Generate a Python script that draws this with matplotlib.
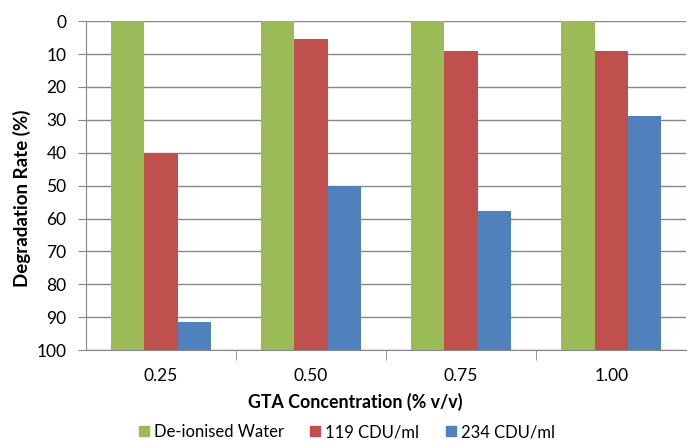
import numpy as np
import matplotlib.pyplot as plt
from matplotlib.patches import Patch

concentrations = ["0.25", "0.50", "0.75", "1.00"]
series_names = ["De-ionised Water", "119 CDU/ml", "234 CDU/ml"]
water = [0, 0, 0, 0]
cdu_119 = [40, 5.5, 9.1, 9.1]
cdu_234 = [91.5, 50, 57.8, 28.7]
colors = ["#9BBB59", "#C0504D", "#4F81BD"]

plt.rcParams['font.family'] = ['Lato', 'DejaVu Sans']
grid_col = "#878787"

fig = plt.figure(figsize=(6.87, 4.42), dpi=100)
ax = fig.add_axes([0.125, 0.208, 0.874, 0.744])

x = np.arange(len(concentrations))
w = 0.222
for i, vals in enumerate([water, cdu_119, cdu_234]):
    vals = np.array(vals)
    # bars rise from the 100 baseline at the bottom of the reversed axis
    ax.bar(x + (i - 1) * w, vals - 100, bottom=100, width=w,
           color=colors[i], zorder=3)

ax.set_ylim(100, 0)
ax.set_xlim(-0.5, len(concentrations) - 0.5)
ax.set_yticks(np.arange(0, 101, 10))
ax.tick_params(axis='y', labelsize=12.5, length=6, color=grid_col, pad=8)
ax.yaxis.grid(True, color=grid_col, linewidth=1, zorder=0)

ax.set_xticks(x)
ax.set_xticklabels(concentrations, fontsize=12.5)
ax.set_xticks(np.arange(0.5, len(concentrations) - 0.5), minor=True)
ax.tick_params(axis='x', which='major', length=0, pad=13)
ax.tick_params(axis='x', which='minor', length=7, color=grid_col)

for s in ['top', 'right']:
    ax.spines[s].set_visible(False)
for s in ['left', 'bottom']:
    ax.spines[s].set_color(grid_col)

fig.text(0.032, 0.551, "Degradation Rate (%)", rotation=90, fontsize=13.5,
         fontweight='bold', ha='center', va='center')
fig.text(0.517, 1 - 402 / 442, "GTA Concentration (% v/v)", fontsize=12.8,
         fontweight='bold', ha='center', va='center')

handles = [Patch(color=c) for c in colors]
fig.legend(handles, series_names, loc='center', bbox_to_anchor=(0.505, 1 - 432 / 442),
           ncol=3, frameon=False, fontsize=12, handlelength=0.6, handleheight=0.6,
           handletextpad=0.3, columnspacing=1.6)

fig.savefig("out.png", dpi=100)
